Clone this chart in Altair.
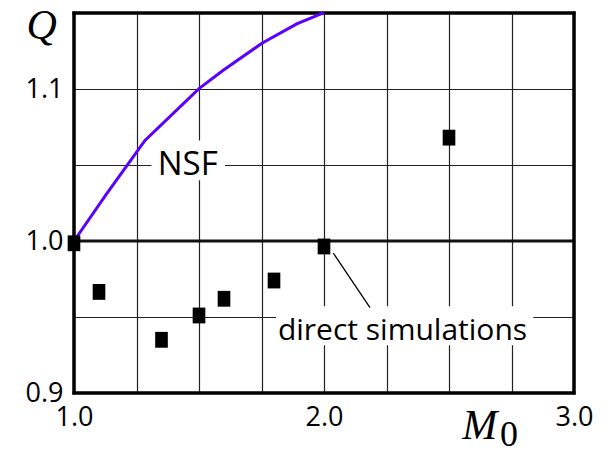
import altair as alt
import pandas as pd

# NSF curve
nsf_m = [1.0, 1.131, 1.284, 1.5, 1.597, 1.75, 1.891, 2.0]
nsf_q = [1.0, 1.0312, 1.0662, 1.1003, 1.1123, 1.1299, 1.1428, 1.1502]

# direct simulations (squares)
sim_m = [1.0, 1.1, 1.35, 1.5, 1.6, 1.8, 2.0, 2.5]
sim_q = [0.9985, 0.9665, 0.935, 0.951, 0.962, 0.974, 0.9964, 1.068]

# grid / tick values
x_grid = [1.0, 1.25, 1.5, 1.75, 2.0, 2.25, 2.5, 2.75, 3.0]
y_grid = [0.9, 0.95, 1.0, 1.05, 1.1, 1.15]
ref_q = [1.0]
frame_m = [1.0, 3.0]
frame_q = [0.9, 1.15]

# annotations
nsf_label = ["NSF"]
nsf_label_m = [1.455]
nsf_label_q = [1.0432]
sim_label = ["direct simulations"]
sim_label_m = [2.314]
sim_label_q = [0.9351]
box_m = [1.31, 1.808]
box_m2 = [1.604, 2.837]
box_q = [1.0399, 0.9314]
box_q2 = [1.0662, 0.957]
leader_m = [2.037]
leader_m2 = [2.184]
leader_q = [0.9921]
leader_q2 = [0.9562]
sub_text = ["0"]

SANS = "Open Sans"

xs = alt.Scale(domain=[1.0, 3.0], nice=False, zero=False)
ys = alt.Scale(domain=[0.9, 1.15], nice=False, zero=False)

x_axis = alt.Axis(
    values=x_grid,
    labelExpr="datum.value % 1 === 0 ? format(datum.value, '.1f') : ''",
    grid=True, gridColor="#222222", gridWidth=1.2, gridOpacity=1,
    ticks=False, domain=False, labelFlush=False, labelOverlap=False,
    labelFont=SANS, labelFontSize=27, labelColor="black",
    labelPadding=11, labelBaseline="top",
    title="M", titleFont="Liberation Serif", titleFontStyle="italic",
    titleFontWeight="normal", titleFontSize=42, titleColor="black",
    titleX=387.7, titleY=45.6, titleAlign="left", titleBaseline="alphabetic",
)
y_axis = alt.Axis(
    values=y_grid,
    labelExpr="abs(datum.value*10 - round(datum.value*10)) < 0.001 ? format(datum.value, '.1f') : ''",
    grid=True, gridColor="#222222", gridWidth=1.2, gridOpacity=1,
    ticks=False, domain=False, labelFlush=False, labelOverlap=False,
    labelFont=SANS, labelFontSize=27, labelColor="black",
    labelPadding=11,
    title="Q", titleFont="Liberation Serif", titleFontStyle="italic",
    titleFontWeight="normal", titleFontSize=42, titleColor="black",
    titleAngle=0, titleX=-48, titleY=25.6, titleAlign="left",
    titleBaseline="alphabetic",
)

X = alt.X("m:Q", scale=xs, axis=x_axis)
Y = alt.Y("q:Q", scale=ys, axis=y_axis)

nsf_df = pd.DataFrame({"m": nsf_m, "q": nsf_q})
sim_df = pd.DataFrame({"m": sim_m, "q": sim_q})
ref_df = pd.DataFrame({"q": ref_q})
fx_df = pd.DataFrame({"m": frame_m})
fy_df = pd.DataFrame({"q": frame_q})
box_df = pd.DataFrame({"m": box_m, "m2": box_m2, "q": box_q, "q2": box_q2})
nsf_lab_df = pd.DataFrame({"m": nsf_label_m, "q": nsf_label_q, "t": nsf_label})
sim_lab_df = pd.DataFrame({"m": sim_label_m, "q": sim_label_q, "t": sim_label})
lead_df = pd.DataFrame({"m": leader_m, "m2": leader_m2, "q": leader_q, "q2": leader_q2})
sub_df = pd.DataFrame({"t": sub_text})

ref = alt.Chart(ref_df).mark_rule(color="#111111", strokeWidth=3).encode(y=Y)

boxes = alt.Chart(box_df).mark_rect(color="white", opacity=1).encode(
    x=X, x2="m2:Q", y=Y, y2="q2:Q"
)

# plot frame
frame_v = alt.Chart(fx_df).mark_rule(
    color="black", strokeWidth=3, strokeCap="square"
).encode(x=X)
frame_h = alt.Chart(fy_df).mark_rule(
    color="black", strokeWidth=3, strokeCap="square"
).encode(y=Y)

nsf = alt.Chart(nsf_df).mark_line(color="#5a00ff", strokeWidth=3).encode(
    x=X, y=Y, order=alt.Order("m:Q")
)

squares = alt.Chart(sim_df).mark_point(
    shape="M-0.8,-1L0.8,-1L0.8,1L-0.8,1Z", size=250, filled=True,
    color="black", opacity=1, strokeWidth=0
).encode(x=X, y=Y)

leader = alt.Chart(lead_df).mark_rule(color="black", strokeWidth=1.3).encode(
    x=X, x2="m2:Q", y=Y, y2="q2:Q"
)

nsf_text = alt.Chart(nsf_lab_df).mark_text(
    font=SANS, fontSize=33, color="black", align="center", baseline="alphabetic"
).encode(x=X, y=Y, text="t:N")

sim_text = alt.Chart(sim_lab_df).mark_text(
    font=SANS, fontSize=30, color="black", align="center", baseline="alphabetic"
).encode(x=X, y=Y, text="t:N")

sub = alt.Chart(sub_df).mark_text(
    font="Liberation Serif", fontSize=36, color="black", align="left",
    baseline="alphabetic"
).encode(x=alt.value(426), y=alt.value(432.5), text="t:N")

chart = alt.layer(
    ref, boxes, frame_v, frame_h, nsf, squares, leader, nsf_text, sim_text, sub
).properties(
    width=500, height=380,
    padding={"left": 74, "top": 13, "right": 41, "bottom": 62},
    autosize=alt.AutoSizeParams(type="none"),
    background="white",
).configure_view(stroke="black", strokeWidth=3)

chart.save("out.html", embed_options={"renderer": "svg", "actions": False})
